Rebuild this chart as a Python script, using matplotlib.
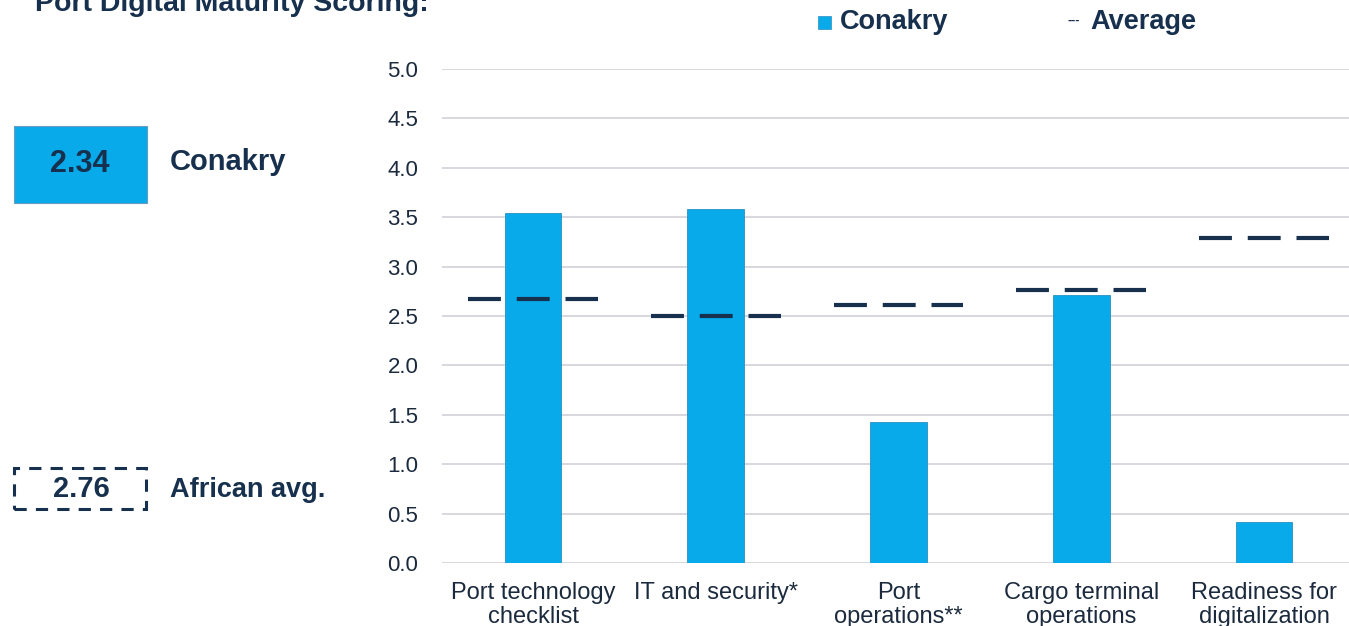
import matplotlib
matplotlib.use("Agg")
import matplotlib.pyplot as plt
import numpy as np
from matplotlib.patches import Rectangle

categories = ["Port technology\nchecklist", "IT and security*", "Port\noperations**",
              "Cargo terminal\noperations", "Readiness for\ndigitalization"]
conakry = [3.54, 3.58, 1.43, 2.71, 0.42]
average = [2.67, 2.50, 2.61, 2.76, 3.29]
conakry_score = "2.34"
african_avg = "2.76"

blue = "#08aaea"
navy = "#16304d"
plt.rcParams['font.family'] = ['Liberation Sans', 'DejaVu Sans']

fig = plt.figure(figsize=(13.49, 6.26), dpi=100)
ax = fig.add_axes([442/1349, 1 - 563/626, 907/1349, (563 - 69)/626])

x = np.arange(len(categories))
ax.bar(x, conakry, width=0.31, color=blue, edgecolor="#2a8fc0", linewidth=0.6, zorder=2)
for xi, v in zip(x, average):
    ax.plot([xi - 0.355, xi + 0.355], [v, v], color=navy, linewidth=3,
            dashes=(7.9, 3.8), solid_capstyle="butt", zorder=3)

ax.set_xlim(-0.498, 4.465)
ax.set_ylim(0, 5)
ticks = np.arange(0, 5.01, 0.5)
ax.set_yticks(ticks)
ax.set_yticklabels([f"{t:.1f}" for t in ticks], fontsize=16, color="#1b2a3d")
ax.set_xticks(x)
ax.set_xticklabels(categories, fontsize=17, color="#1b2a3d", linespacing=1.1)
ax.yaxis.grid(True, color="#d3d6db", linewidth=1.3, zorder=0)
ax.set_axisbelow(True)
for s in ax.spines.values():
    s.set_visible(False)
ax.tick_params(axis="both", length=0)
ax.tick_params(axis="y", pad=17)
ax.tick_params(axis="x", pad=14)

# title (cut off at the top, as in the reference)
fig.text(35/1349, 1 - 11/626, "Port Digital Maturity Scoring:", fontsize=20.5,
         fontweight="bold", color=navy, va="baseline")

# legend
fig.patches.append(Rectangle((818/1349, 1 - 29/626), 13/1349, 13/626,
                             transform=fig.transFigure, facecolor=blue, edgecolor="#2a8fc0", lw=0.5))
fig.text(840/1349, 1 - 22/626, "Conakry", fontsize=19.5, fontweight="bold", color=navy, va="center")
fig.text(1067/1349, 1 - 21/626, "---", fontsize=9, fontweight="bold", color=navy, va="center")
fig.text(1090/1349, 1 - 22/626, "Average", fontsize=19.5, fontweight="bold", color=navy, va="center")

# side boxes
fig.patches.append(Rectangle((14/1349, 1 - 203/626), 133/1349, 77/626,
                             transform=fig.transFigure, facecolor=blue, edgecolor="#6a9cc0", lw=0.8))
fig.text(80/1349, 1 - 164/626, conakry_score, fontsize=22, fontweight="bold", color=navy,
         ha="center", va="center")
fig.text(170/1349, 1 - 162/626, "Conakry", fontsize=21, fontweight="bold", color=navy, va="center")

fig.patches.append(Rectangle((14/1349, 1 - 509/626), 132/1349, 41/626,
                             transform=fig.transFigure, facecolor="none", edgecolor=navy, lw=2.2,
                             linestyle=(0, (4, 3))))
fig.text(81/1349, 1 - 489/626, african_avg, fontsize=21, fontweight="bold", color=navy,
         ha="center", va="center")
fig.text(170/1349, 1 - 490/626, "African avg.", fontsize=19.5, fontweight="bold", color=navy, va="center")

fig.savefig("out.png", dpi=100, facecolor="white")
